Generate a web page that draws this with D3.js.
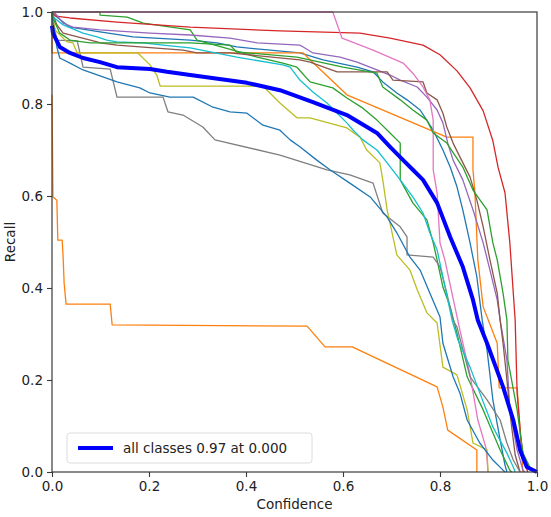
<!DOCTYPE html>
<html>
<head>
<meta charset="utf-8">
<script src="https://cdn.jsdelivr.net/npm/d3@7"></script>
<style>
  body { margin: 0; background: #fff; }
  svg { display: block; font-family: "DejaVu Sans", sans-serif; }
</style>
</head>
<body>
<script>
// recall vs confidence, one curve per class + the mean ("all classes")
// points are [confidence, recall]
const blueA = [[0,1],[.010,.989],[.037,.967],[.099,.957],[.167,.946],[.285,.939],[.340,.933],[.381,.924],[.511,.911],[.559,.896],[.629,.880],[.662,.870],[.682,.848],[.711,.824],[.732,.809],[.759,.787],[.786,.743],[.806,.700],[.821,.663],[.835,.620],[.847,.570],[.862,.498],[.876,.424],[.887,.330],[.897,.265],[.909,.157],[.924,.070],[.934,.015],[.938,0]];
const orangeA = [[0,1],[0,.911],[.518,.911],[.532,.896],[.608,.820],[.814,.728],[.868,.728],[.868,.657],[.872,.607],[.878,.461],[.889,.359],[.918,.280],[.922,.183],[.959,.183],[.967,.063],[.971,0]];
const greenA = [[0,1],[.099,1],[.099,.993],[.155,.989],[.188,.976],[.285,.961],[.299,.939],[.373,.917],[.423,.902],[.476,.889],[.505,.880],[.532,.848],[.579,.835],[.608,.813],[.641,.791],[.670,.765],[.697,.737],[.718,.715],[.718,.635],[.744,.585],[.773,.548],[.786,.498],[.794,.461],[.806,.402],[.821,.359],[.835,.302],[.856,.207],[.889,.135],[.924,.048],[.944,.004],[.948,0]];
const red = [[0,1],[.008,.991],[.037,.987],[.134,.978],[.285,.967],[.470,.959],[.635,.954],[.697,.943],[.765,.928],[.800,.907],[.835,.872],[.862,.835],[.889,.785],[.909,.720],[.920,.661],[.934,.607],[.944,.498],[.955,.330],[.959,.172],[.967,.070],[.973,.026],[.981,0]];
const purple = [[0,1],[.006,.998],[.023,.976],[.043,.967],[.099,.961],[.202,.954],[.285,.950],[.367,.943],[.423,.933],[.511,.928],[.518,.924],[.538,.911],[.594,.902],[.629,.891],[.670,.874],[.697,.863],[.718,.852],[.753,.837],[.773,.815],[.794,.787],[.806,.759],[.816,.715],[.827,.678],[.847,.635],[.868,.570],[.889,.498],[.903,.439],[.918,.374],[.924,.330],[.938,.243],[.944,.135],[.959,.048],[.971,.004],[.975,0]];
const brown = [[0,1],[.010,.972],[.023,.954],[.093,.935],[.099,.933],[.134,.928],[.270,.917],[.299,.911],[.367,.911],[.511,.896],[.532,.891],[.588,.870],[.691,.870],[.703,.852],[.765,.848],[.773,.824],[.794,.809],[.806,.780],[.814,.750],[.827,.715],[.841,.685],[.862,.641],[.876,.591],[.889,.533],[.903,.461],[.918,.389],[.924,.330],[.930,.280],[.938,.200],[.946,.113],[.955,.037],[.965,0]];
const pink = [[0,1],[.579,1],[.598,.943],[.662,.917],[.724,.889],[.744,.867],[.765,.837],[.779,.809],[.786,.765],[.786,.657],[.794,.607],[.800,.498],[.810,.461],[.821,.407],[.841,.309],[.862,.211],[.878,.113],[.895,.052],[.899,0]];
const gray = [[0,.996],[.010,.939],[.052,.937],[.064,.880],[.120,.876],[.134,.815],[.229,.815],[.239,.783],[.270,.776],[.311,.750],[.336,.722],[.470,.689],[.567,.657],[.614,.646],[.662,.628],[.682,.563],[.718,.533],[.732,.511],[.732,.472],[.786,.467],[.800,.446],[.814,.389],[.827,.330],[.835,.315],[.862,.207],[.897,.157],[.924,.113],[.938,.063],[.951,.026],[.965,0]];
const olive = [[0,.996],[.006,.961],[.031,.935],[.043,.933],[.052,.911],[.177,.911],[.202,.885],[.216,.863],[.223,.839],[.435,.839],[.470,.802],[.505,.770],[.532,.770],[.608,.748],[.635,.728],[.649,.700],[.676,.672],[.682,.635],[.691,.570],[.711,.472],[.738,.439],[.753,.396],[.773,.346],[.794,.324],[.806,.228],[.835,.211],[.856,.135],[.868,.063],[.897,.048],[.899,0]];
const cyan = [[0,.998],[.002,.989],[.023,.972],[.064,.954],[.093,.946],[.113,.939],[.134,.935],[.188,.933],[.229,.928],[.285,.922],[.381,.902],[.476,.885],[.491,.880],[.511,.852],[.538,.826],[.567,.802],[.588,.780],[.608,.759],[.621,.743],[.641,.722],[.670,.700],[.691,.672],[.718,.635],[.744,.598],[.765,.563],[.779,.520],[.794,.483],[.806,.424],[.816,.374],[.825,.330],[.837,.287],[.862,.228],[.882,.172],[.909,.098],[.938,.041],[.951,.011],[.955,0]];
const blueB = [[0,.996],[.002,.976],[.010,.924],[.016,.900],[.037,.889],[.064,.874],[.105,.859],[.134,.848],[.181,.835],[.202,.824],[.243,.815],[.291,.815],[.332,.793],[.367,.783],[.402,.780],[.435,.754],[.470,.743],[.491,.722],[.511,.707],[.546,.678],[.573,.657],[.614,.628],[.656,.598],[.691,.554],[.711,.520],[.738,.467],[.759,.439],[.779,.389],[.800,.337],[.806,.280],[.827,.207],[.841,.172],[.856,.113],[.882,.063],[.909,.026],[.930,.004],[.934,0]];
const orangeB = [[0,.820],[.002,.598],[.010,.591],[.012,.504],[.021,.504],[.023,.465],[.025,.411],[.029,.365],[.120,.365],[.124,.320],[.526,.317],[.563,.272],[.619,.272],[.794,.185],[.806,.141],[.816,.091],[.876,.048],[.876,0]];
const greenB = [[0,1],[.002,.987],[.016,.954],[.037,.939],[.078,.933],[.285,.933],[.367,.928],[.381,.913],[.505,.902],[.600,.880],[.670,.867],[.682,.837],[.718,.809],[.744,.787],[.773,.765],[.786,.737],[.814,.715],[.847,.663],[.868,.613],[.897,.570],[.909,.498],[.918,.461],[.930,.389],[.938,.330],[.940,.243],[.959,.135],[.971,.041],[.986,.009],[1.0,0]];

const allClasses = [[0,.970],[.002,.954],[.016,.924],[.037,.911],[.064,.900],[.099,.891],[.134,.880],[.202,.876],[.237,.870],[.285,.863],[.402,.846],[.470,.830],[.538,.804],[.608,.776],[.670,.737],[.697,.707],[.724,.678],[.744,.657],[.765,.635],[.794,.585],[.821,.511],[.847,.446],[.868,.374],[.878,.330],[.897,.280],[.930,.185],[.951,.113],[.965,.048],[.979,.011],[1.0,0]];

const classCurves = [blueA, orangeA, greenA, red, purple, brown, pink, gray, olive, cyan, blueB, orangeB, greenB];
const classColors = ["#1f77b4","#ff7f0e","#2ca02c","#d62728","#9467bd","#8c564b","#e377c2","#7f7f7f","#bcbd22","#17becf","#1f77b4","#ff7f0e","#2ca02c"];
const tickValues = [0, 0.2, 0.4, 0.6, 0.8, 1.0];
const legendLabel = "all classes 0.97 at 0.000";

const width = 551, height = 517;
const margin = {top: 12, right: 14, bottom: 45, left: 52};

const svg = d3.select("body").append("svg")
    .attr("width", width)
    .attr("height", height);

const x = d3.scaleLinear().domain([0, 1]).range([margin.left, width - margin.right]);
const y = d3.scaleLinear().domain([0, 1]).range([height - margin.bottom, margin.top]);

const line = d3.line()
    .x(d => x(d[0]))
    .y(d => y(d[1]));

const g = svg.append("g");

classCurves.forEach((curve, i) => {
  g.append("path")
      .datum(curve)
      .attr("fill", "none")
      .attr("stroke", classColors[i])
      .attr("stroke-width", 1.3)
      .attr("stroke-linejoin", "round")
      .attr("d", line);
});

g.append("path")
    .datum(allClasses)
    .attr("fill", "none")
    .attr("stroke", "#0000ff")
    .attr("stroke-width", 4)
    .attr("stroke-linejoin", "round")
    .attr("d", line);

// frame
svg.append("rect")
    .attr("x", x(0))
    .attr("y", y(1))
    .attr("width", x(1) - x(0))
    .attr("height", y(0) - y(1))
    .attr("fill", "none")
    .attr("stroke", "#3a3a3a")
    .attr("stroke-width", 1.2);

const fmt = d3.format(".1f");

const xAxis = svg.append("g")
    .attr("transform", `translate(0,${y(0)})`)
    .call(d3.axisBottom(x).tickValues(tickValues).tickFormat(fmt).tickSize(5).tickPadding(4));

const yAxis = svg.append("g")
    .attr("transform", `translate(${x(0)},0)`)
    .call(d3.axisLeft(y).tickValues(tickValues).tickFormat(fmt).tickSize(5).tickPadding(4));

[xAxis, yAxis].forEach(ax => {
  ax.select(".domain").remove();
  ax.selectAll(".tick line").attr("stroke", "#3a3a3a").attr("stroke-width", 1.1);
  ax.selectAll(".tick text")
      .attr("fill", "#222")
      .style("font-family", "DejaVu Sans")
      .style("font-size", "13.5px");
});

svg.append("text")
    .attr("x", (x(0) + x(1)) / 2)
    .attr("y", 509)
    .attr("text-anchor", "middle")
    .attr("fill", "#222")
    .style("font-size", "13.5px")
    .text("Confidence");

svg.append("text")
    .attr("transform", `translate(15,${(y(0) + y(1)) / 2}) rotate(-90)`)
    .attr("text-anchor", "middle")
    .attr("fill", "#222")
    .style("font-size", "13.5px")
    .text("Recall");

// legend
const lg = svg.append("g").attr("transform", "translate(67,433)");
lg.append("rect")
    .attr("width", 245)
    .attr("height", 30)
    .attr("rx", 3)
    .attr("fill", "#fff")
    .attr("fill-opacity", 0.8)
    .attr("stroke", "#dcdcdc");
lg.append("line")
    .attr("x1", 11).attr("x2", 46)
    .attr("y1", 15).attr("y2", 15)
    .attr("stroke", "#0000ff")
    .attr("stroke-width", 4);
lg.append("text")
    .attr("x", 56)
    .attr("y", 15)
    .attr("dy", "0.36em")
    .attr("fill", "#222")
    .style("font-size", "13.5px")
    .text(legendLabel);
</script>
</body>
</html>
